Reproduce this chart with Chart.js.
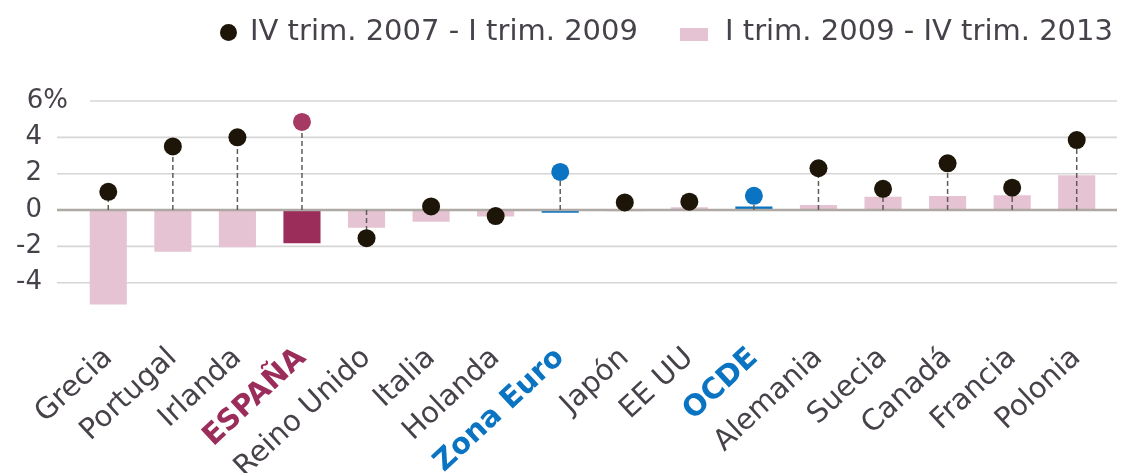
<!DOCTYPE html>
<html>
<head>
<meta charset="utf-8">
<script src="https://cdn.jsdelivr.net/npm/chart.js@4.4.1/dist/chart.umd.min.js"></script>
<style>
  html, body { margin: 0; padding: 0; background: #ffffff; }
  #wrap { position: relative; width: 1122px; height: 473px; overflow: hidden; background: #ffffff; }
  #c { position: absolute; left: 0; top: 0; }
  #legend { position: absolute; left: 0; top: 0; width: 1122px; height: 60px;
            font-family: 'DejaVu Sans'; font-size: 29px; line-height: 29px; color: #47424a; }
  .lg-text { position: absolute; top: 15.5px; white-space: nowrap; }
  .mk { position: absolute; display: block; }
</style>
</head>
<body>
<div id="wrap">
  <canvas id="c" width="1122" height="473"></canvas>
  <div id="legend">
    <span class="mk" id="mk1" style="left:219.5px; top:24px; width:17px; height:17px; border-radius:50%;"></span>
    <span class="lg-text" id="t1" style="left:250px;"></span>
    <span class="mk" id="mk2" style="left:680px; top:28px; width:28px; height:13px;"></span>
    <span class="lg-text" id="t2" style="left:725px;"></span>
  </div>
</div>
<script>
// ---------- DATA ----------
const categories = ['Grecia', 'Portugal', 'Irlanda', 'ESPAÑA', 'Reino Unido', 'Italia', 'Holanda',
                    'Zona Euro', 'Japón', 'EE UU', 'OCDE', 'Alemania', 'Suecia', 'Canadá', 'Francia', 'Polonia'];
// Dots: IV trim. 2007 - I trim. 2009
const change2007_2009 = [1.0, 3.5, 4.0, 4.85, -1.55, 0.2, -0.33, 2.1, 0.42, 0.46, 0.78, 2.3, 1.17, 2.57, 1.23, 3.85];
// Bars: I trim. 2009 - IV trim. 2013
const change2009_2013 = [-5.2, -2.3, -2.05, -1.83, -0.97, -0.64, -0.35, -0.15, -0.07, 0.15, 0.2, 0.28, 0.73, 0.77, 0.82, 1.92];
const seriesNames = ['IV trim. 2007 - I trim. 2009', 'I trim. 2009 - IV trim. 2013'];
const yTickValues = [-4, -2, 0, 2, 4, 6];
const spainName = 'ESPAÑA';
const aggregateNames = ['Zona Euro', 'OCDE'];

// ---------- STYLE ----------
const FONT = 'DejaVu Sans';
const COL = {
  pink: '#e5c3d2', spainBar: '#9b2d5a', spainDot: '#a63a64', blue: '#0b74c2',
  dot: '#1c1508', text: '#47424a', grid: '#d6d6d6', zero: '#aea9a4', stem: '#625c58'
};
function kind(name) {
  if (name === spainName) return 'spain';
  if (aggregateNames.includes(name)) return 'agg';
  return 'other';
}
function barColor(name) {
  const k = kind(name);
  return k === 'spain' ? COL.spainBar : k === 'agg' ? COL.blue : COL.pink;
}
function dotColor(name) {
  const k = kind(name);
  return k === 'spain' ? COL.spainDot : k === 'agg' ? COL.blue : COL.dot;
}
function labelColor(name) {
  const k = kind(name);
  return k === 'spain' ? COL.spainBar : k === 'agg' ? COL.blue : COL.text;
}

// ---------- LEGEND (HTML) ----------
document.getElementById('t1').textContent = seriesNames[0];
document.getElementById('t2').textContent = seriesNames[1];
document.getElementById('mk1').style.background = COL.dot;
document.getElementById('mk2').style.background = COL.pink;

// ---------- PLUGIN: grid lines, zero line, stems ----------
const linesPlugin = {
  id: 'lines',
  beforeDatasetsDraw(chart) {
    const { ctx, chartArea, scales: { y } } = chart;
    ctx.save();
    ctx.strokeStyle = COL.grid;
    ctx.lineWidth = 1.6;
    y.ticks.forEach(t => {
      if (t.value === 0) return;
      const py = y.getPixelForValue(t.value);
      const x0 = t.value === y.max ? chartArea.left + 14 : chartArea.left - 19;
      ctx.beginPath();
      ctx.moveTo(x0, py);
      ctx.lineTo(chartArea.right + 8, py);
      ctx.stroke();
    });
    ctx.restore();
  },
  beforeDatasetDraw(chart, args) {
    if (args.meta.type !== 'line') return;
    const { ctx, chartArea, scales: { y } } = chart;
    const y0 = y.getPixelForValue(0);
    ctx.save();
    ctx.strokeStyle = COL.zero;
    ctx.lineWidth = 2.5;
    ctx.beginPath();
    ctx.moveTo(chartArea.left - 19, y0);
    ctx.lineTo(chartArea.right + 8, y0);
    ctx.stroke();
    ctx.strokeStyle = COL.stem;
    ctx.lineWidth = 1.5;
    ctx.setLineDash([5, 3]);
    args.meta.data.forEach(pt => {
      ctx.beginPath();
      ctx.moveTo(pt.x, y0);
      ctx.lineTo(pt.x, pt.y);
      ctx.stroke();
    });
    ctx.restore();
  }
};

// ---------- CHART ----------
new Chart(document.getElementById('c'), {
  type: 'bar',
  data: {
    labels: categories,
    datasets: [
      {
        type: 'line',
        label: seriesNames[0],
        data: change2007_2009,
        showLine: false,
        order: 1,
        pointRadius: 9,
        pointHoverRadius: 9,
        pointBorderWidth: 0,
        pointBackgroundColor: c => dotColor(categories[c.dataIndex]),
        pointBorderColor: c => dotColor(categories[c.dataIndex])
      },
      {
        type: 'bar',
        label: seriesNames[1],
        data: change2009_2013,
        order: 2,
        backgroundColor: c => barColor(categories[c.dataIndex]),
        borderWidth: 0,
        barPercentage: 0.575,
        categoryPercentage: 1
      }
    ]
  },
  options: {
    responsive: false,
    animation: false,
    devicePixelRatio: 1,
    layout: { padding: { top: 101, right: 13, bottom: 0, left: 0 } },
    plugins: { legend: { display: false }, tooltip: { enabled: false } },
    scales: {
      x: {
        offset: true,
        grid: { display: false, drawTicks: false },
        border: { display: false },
        ticks: {
          autoSkip: false,
          minRotation: 43,
          maxRotation: 43,
          padding: 31,
          color: c => labelColor(categories[c.index]),
          font: c => ({ family: FONT, size: 29, weight: kind(categories[c.index]) === 'other' ? 'normal' : 'bold' })
        },
        afterFit: s => { s.height = 163; s.paddingLeft = 0; s.paddingRight = 0; }
      },
      y: {
        min: -5.5,
        max: 6,
        grid: { display: false, drawTicks: false },
        border: { display: false },
        afterBuildTicks: s => { s.ticks = yTickValues.map(v => ({ value: v })); },
        ticks: {
          padding: 8,
          color: COL.text,
          font: { family: FONT, size: 26 },
          callback: v => (v === 6 ? '6%' : String(v) + '\u2003')
        },
        afterFit: s => { s.width = 76; }
      }
    }
  },
  plugins: [linesPlugin]
});
</script>
</body>
</html>
